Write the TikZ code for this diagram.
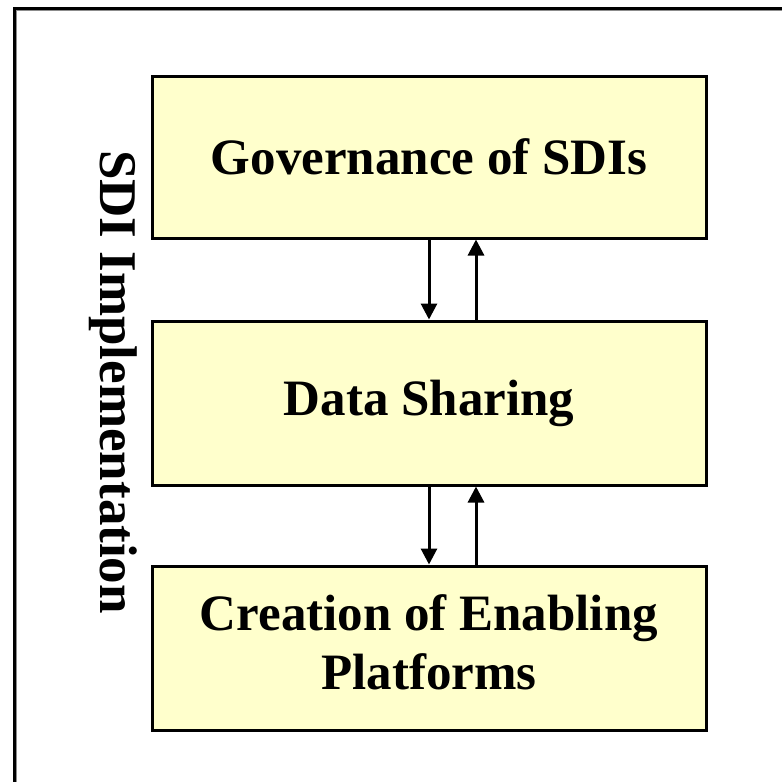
\documentclass[tikz,border=0pt]{standalone}
\usepackage{fontspec}
\setmainfont{Liberation Serif}
\usetikzlibrary{arrows.meta}
\definecolor{boxfill}{HTML}{FFFFCC}
\definecolor{shadowgray}{HTML}{8C8C8C}
\tikzset{
  blockbox/.style={draw=black, line width=3pt, fill=boxfill, minimum width=554pt, minimum height=162pt,
    inner sep=0pt, align=center, font=\fontsize{51}{59}\selectfont\bfseries},
  flowarrow/.style={line width=3pt, -{Triangle[width=16pt,length=16pt]}},
  boxshadow/.style={fill=shadowgray},
}
\begin{document}
\begin{tikzpicture}[x=1pt,y=-1pt]
\useasboundingbox (0,0) rectangle (782,782);
\fill[white] (0,0) rectangle (782,782);
% outer frame (extends past the page on right and bottom)
\draw[draw=shadowgray, line width=3pt] (15.5,9.5) rectangle (800,800);
\draw[draw=black, line width=3pt] (14,8) rectangle (800,800);
% shadows
\fill[boxshadow] (154,78) rectangle (708,240);
\fill[boxshadow] (154,323) rectangle (708,487);
\fill[boxshadow] (154,568) rectangle (708,732);
\node[blockbox] (gov) at (429,157) {Governance of SDIs};
\node[blockbox, minimum height=164pt] (data) at (429,403) {Data Sharing};
\node[blockbox, minimum height=164pt] (crea) at (429,648) {\raisebox{10pt}{\begin{tabular}{@{}c@{}}Creation of Enabling\\Platforms\end{tabular}}};
\node[rotate=-90, font=\fontsize{53}{60}\selectfont\bfseries, inner sep=0pt] (side) at (113,382) {SDI Implementation};
\draw[flowarrow] (gov.south) -- (data.north);
\draw[flowarrow] ([xshift=47pt]data.north) -- ([xshift=47pt]gov.south);
\draw[flowarrow] (data.south) -- (crea.north);
\draw[flowarrow] ([xshift=47pt]crea.north) -- ([xshift=47pt]data.south);
\end{tikzpicture}
\end{document}
